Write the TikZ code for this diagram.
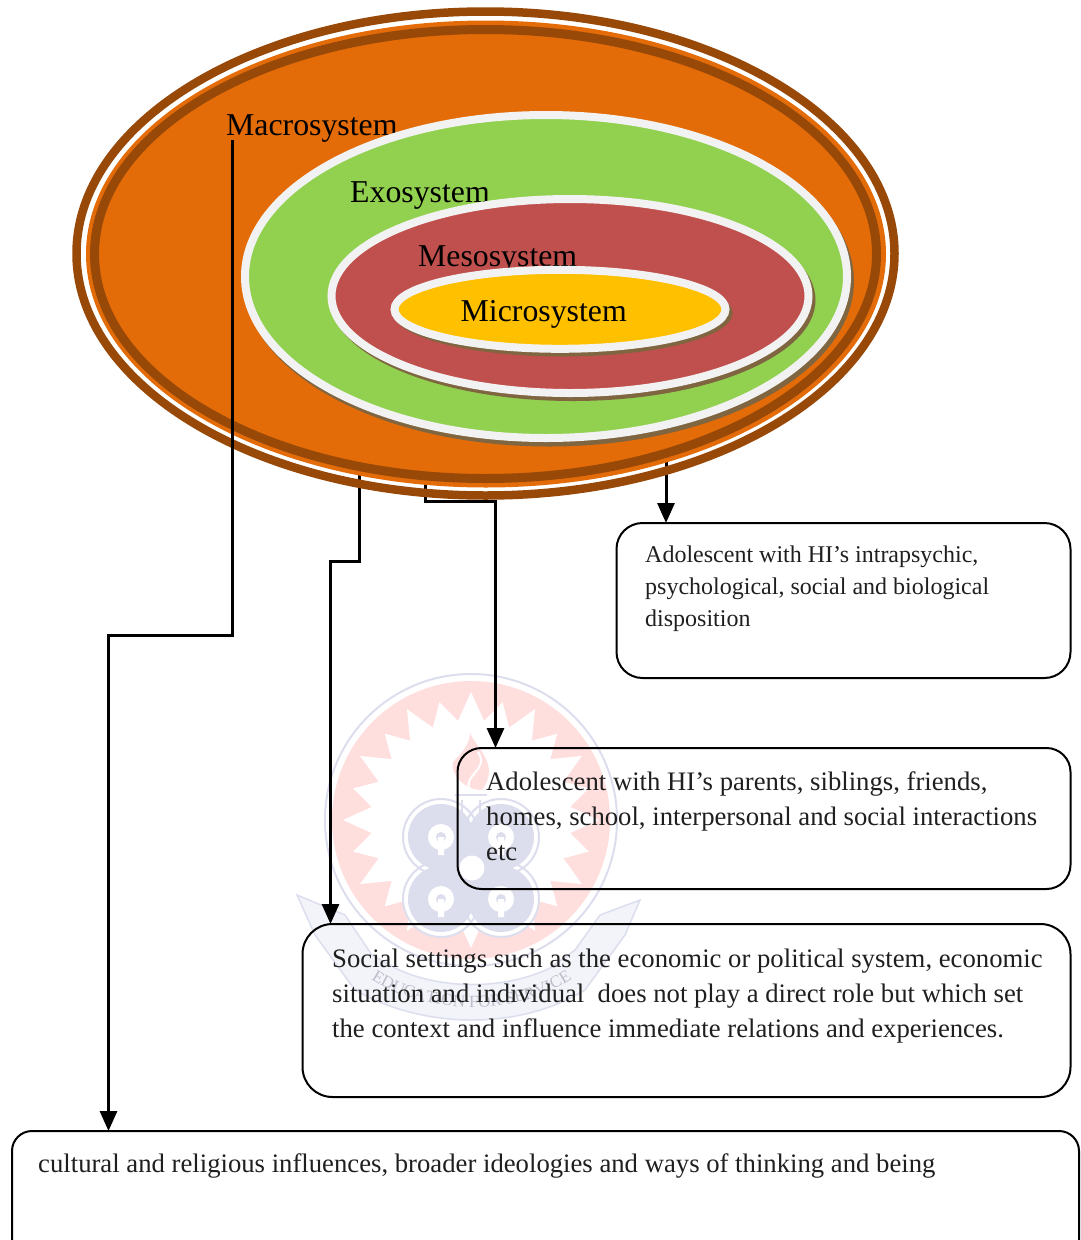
\documentclass[tikz,border=0pt]{standalone}
\usepackage{fontspec}
\setmainfont{Liberation Serif}
\usetikzlibrary{arrows.meta,shapes.geometric,decorations.text,calc}
\definecolor{ringbrown}{HTML}{984807}
\definecolor{sysorange}{HTML}{E36C09}
\definecolor{sysgreen}{HTML}{92D050}
\definecolor{sysred}{HTML}{C0504D}
\definecolor{sysyellow}{HTML}{FFC000}
\definecolor{ringgrey}{HTML}{F2F2F2}
\definecolor{shadowbrown}{HTML}{7F6540}
\definecolor{wmred}{HTML}{FFDEDE}
\definecolor{wmblue}{HTML}{DCDEEE}
\tikzset{
  sysell/.style={ellipse,inner sep=0pt,outer sep=0pt,line width=8pt,draw=ringgrey},
  shadowell/.style={ellipse,inner sep=0pt,outer sep=0pt,fill=shadowbrown},
  syslabel/.style={inner sep=0pt,anchor=base west,font=\fontsize{31.8}{36}\selectfont,text=black},
  box/.style={draw=black,line width=2pt,rounded corners=26pt,inner sep=0pt,outer sep=0pt},
  boxtext/.style={inner sep=0pt,anchor=north west,align=left,text=black!88},
  link/.style={draw=black,line width=3pt,line join=miter},
  tip/.style={-{Triangle[length=20pt,width=17pt]}},
}
\begin{document}
\begin{tikzpicture}[x=1pt,y=-1pt]
\clip (0,0) rectangle (1081,1240);
% watermark
\draw[wmblue,line width=2pt] (471,820) circle[radius=146pt];
\fill[wmred] (471,820) circle[radius=139pt];
\fill[white] (471,692) \foreach \i in {0,...,23}{ -- ({471+100*cos(-90+(\i+0.5)*15)},{820+100*sin(-90+(\i+0.5)*15)}) -- ({471+(mod(\i,2)==1 ? 128 : 122)*cos(-90+(\i+1)*15)},{820+(mod(\i,2)==1 ? 128 : 122)*sin(-90+(\i+1)*15)}) } -- cycle;
\draw[wmblue,line width=2pt,fill=white] (441,837) circle[radius=38pt] (501,837) circle[radius=38pt] (441,899) circle[radius=38pt] (501,899) circle[radius=38pt];
\fill[wmblue] (441,837) circle[radius=33pt] (501,837) circle[radius=33pt] (441,899) circle[radius=33pt] (501,899) circle[radius=33pt] (471,868) circle[radius=26pt];
\fill[white] (441,837) circle[radius=13pt] (501,837) circle[radius=13pt] (441,899) circle[radius=13pt] (501,899) circle[radius=13pt] (472,868) circle[radius=12.5pt];
\fill[wmblue] (441,837) circle[radius=5pt] (501,837) circle[radius=5pt] (441,899) circle[radius=5pt] (501,899) circle[radius=5pt];
\fill[white] (438,837) rectangle (444,855) (498,837) rectangle (504,855) (438,899) rectangle (444,917) (498,899) rectangle (504,917);
\fill[wmred] (470,733) .. controls (478,750) and (500,765) .. (482,790) .. controls (465,790) and (450,775) .. (453,762) .. controls (460,755) and (470,745) .. (470,733);
\draw[white,line width=2pt] (478,752) .. controls (490,770) and (462,775) .. (470,790);
\draw[wmblue,line width=2pt] (455,795) -- (487,795) (462,800) -- (462,815) (480,800) -- (480,815);
\fill[wmblue!35,draw=wmblue,line width=1.5pt] (297,895) -- (345,915) -- (372,955) -- (395,968) .. controls (440,990) and (505,990) .. (550,968) -- (575,950) -- (600,915) -- (640,900) -- (625,935) -- (585,990) .. controls (520,1030) and (425,1030) .. (355,990) -- (315,935) -- cycle;
\path[decorate,decoration={text along path,text align=center,text={|\fontsize{17}{20}\selectfont\color{wmblue!85!black}|EDUCATION FOR SERVICE}}] (365,975) .. controls (425,1018) and (520,1018) .. (578,975);
% connectors that run behind the rings
\coordinate (c2) at (359,460);
\coordinate (c3) at (425,470);
\coordinate (c4) at (666,455);
\node[box,rounded corners=26pt,minimum width=454pt,minimum height=155pt] (b1) at (843.5,600.5) {};
\node[box,rounded corners=24pt,minimum width=613pt,minimum height=141pt] (b2) at (764,818.5) {};
\node[box,rounded corners=30pt,minimum width=768pt,minimum height=173pt] (b3) at (686.5,1010.5) {};
\node[box,rounded corners=20pt,minimum width=1067pt,minimum height=129pt] (b4) at (545.5,1195.5) {};
\draw[link,tip] (c2) -- (359,561) -- (330.5,561) -- (330.5,924);
\draw[link,tip] (c3) |- (495.5,501) -- (495.5,748);
\draw[link,tip] (c4) -- (c4 |- b1.north);
% rings
\node[ellipse,inner sep=0pt,outer sep=0pt,line width=8.5pt,draw=ringbrown,minimum width=818pt,minimum height=484pt] (outerring) at (485.5,253.5) {};
\node[ellipse,inner sep=0pt,outer sep=0pt,fill=sysorange,minimum width=800pt,minimum height=467pt] (macroell) at (486,254) {};
\node[ellipse,inner sep=0pt,outer sep=0pt,line width=9pt,draw=ringbrown,minimum width=782pt,minimum height=449pt] (macroring) at (485.5,254) {};
% Macrosystem
\node[syslabel] (macrolabel) at (226,135) {Macrosystem};
\coordinate (c1) at (232.5,140);
\draw[link,tip] (c1) -- (232.5,635) -- (108.5,635) -- (108.5,1131);
% Exosystem
\node[shadowell,minimum width=610pt,minimum height=331pt] (exoshadow) at (549,281) {};
\node[sysell,fill=sysgreen,minimum width=602pt,minimum height=323pt] (exoell) at (546,276.5) {};
\node[syslabel] (exolabel) at (350,202) {Exosystem};
% Mesosystem
\node[shadowell,minimum width=485pt,minimum height=202pt] (mesoshadow) at (573,300) {};
\node[sysell,fill=sysred,minimum width=477pt,minimum height=194pt] (mesoell) at (570,296) {};
\node[syslabel] (mesolabel) at (418,266.5) {Mesosystem};
% Microsystem
\node[shadowell,minimum width=339pt,minimum height=87pt] (microshadow) at (563,313) {};
\node[sysell,fill=sysyellow,minimum width=331pt,minimum height=79pt] (microell) at (560,309.3) {};
\node[syslabel] (microlabel) at (460.5,321) {Microsystem};
% box texts
\node[boxtext,font=\fontsize{24}{32}\selectfont] (t1) at (645,546) {Adolescent with HI’s intrapsychic,\\psychological, social and biological\\disposition};
\node[boxtext,font=\fontsize{26.7}{35}\selectfont] (t2) at (486,771) {Adolescent with HI’s parents, siblings, friends,\\homes, school, interpersonal and social interactions\\etc};
\node[boxtext,font=\fontsize{26.7}{35}\selectfont] (t3) at (332,949) {Social settings such as the economic or political system, economic\\situation and individual\ \ does not play a direct role but which set\\the context and influence immediate relations and experiences.};
\node[boxtext,font=\fontsize{26.7}{35}\selectfont] (t4) at (38,1153) {cultural and religious influences, broader ideologies and ways of thinking and being};
\end{tikzpicture}
\end{document}
